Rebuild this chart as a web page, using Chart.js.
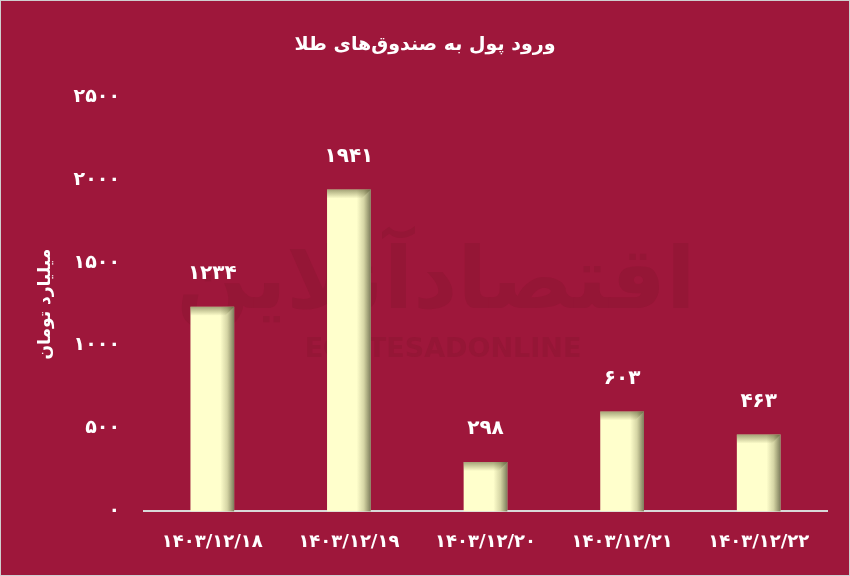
<!DOCTYPE html>
<html>
<head>
<meta charset="utf-8">
<script src="https://cdn.jsdelivr.net/npm/chart.js@4/dist/chart.umd.min.js"></script>
<style>
  html, body { margin: 0; padding: 0; background: #9E173B; }
  #wrap { width: 848px; height: 574px; border: 1px solid #cfcfcf; position: relative; }
</style>
</head>
<body>
<div id="wrap"><canvas id="myChart"></canvas></div>
<script>
const dates = ["1403/12/18", "1403/12/19", "1403/12/20", "1403/12/21", "1403/12/22"];
const inflow = [1234, 1941, 298, 603, 463];
const yTicks = [0, 500, 1000, 1500, 2000, 2500];
const chartTitle = "ورود پول به صندوق‌های طلا";
const yTitle = "میلیارد تومان";

// latin digits -> persian digits
function fa(s) {
  return String(s).replace(/[0-9]/g, d => "۰۱۲۳۴۵۶۷۸۹"[d]);
}

// bevel shading on the right and top edge of each bar
const barShade = {
  id: 'barShade',
  afterDatasetsDraw(chart) {
    const c = chart.ctx;
    chart.getDatasetMeta(0).data.forEach(bar => {
      const left = bar.x - bar.width / 2, right = bar.x + bar.width / 2;
      const top = bar.y, bottom = bar.base;
      c.save();
      let g = c.createLinearGradient(right - 14, 0, right, 0);
      g.addColorStop(0, 'rgba(90,90,50,0)');
      g.addColorStop(0.5, 'rgba(90,90,50,0.25)');
      g.addColorStop(1, 'rgba(80,80,55,0.75)');
      c.fillStyle = g;
      c.fillRect(right - 14, top, 14, bottom - top);
      g = c.createLinearGradient(0, top, 0, top + 9);
      g.addColorStop(0, 'rgba(90,90,50,0.55)');
      g.addColorStop(1, 'rgba(90,90,50,0)');
      c.fillStyle = g;
      c.beginPath();
      c.moveTo(left, top);
      c.lineTo(right, top);
      c.lineTo(right - 9, top + 9);
      c.lineTo(left, top + 9);
      c.closePath();
      c.fill();
      c.restore();
    });
  }
};

const valueLabels = {
  id: 'valueLabels',
  afterDatasetsDraw(chart) {
    const c = chart.ctx;
    const meta = chart.getDatasetMeta(0);
    c.save();
    c.fillStyle = '#ffffff';
    c.font = 'bold 20px "DejaVu Sans"';
    c.textAlign = 'center';
    c.textBaseline = 'middle';
    meta.data.forEach((bar, i) => {
      c.fillText(fa(inflow[i]), bar.x, bar.y - 33);
    });
    c.restore();
  }
};

const watermark = {
  id: 'watermark',
  beforeDatasetsDraw(chart) {
    const c = chart.ctx;
    c.save();
    c.fillStyle = '#951636';
    c.textAlign = 'center';
    c.textBaseline = 'middle';
    c.font = 'bold 86px "DejaVu Sans"';
    c.fillText('اقتصادآنلاین', 435, 285);
    c.font = 'bold 27px "DejaVu Sans"';
    c.fillText('EGHTESADONLINE', 442, 349);
    c.restore();
  }
};

new Chart(document.getElementById('myChart'), {
  type: 'bar',
  data: {
    labels: dates.map(fa),
    datasets: [{
      data: inflow,
      backgroundColor: '#FFFFCC',
      borderWidth: 0,
      categoryPercentage: 1,
      barPercentage: 0.32
    }]
  },
  options: {
    responsive: true,
    maintainAspectRatio: false,
    animation: false,
    layout: { padding: { left: 22, right: 22, top: 10, bottom: 2 } },
    plugins: {
      legend: { display: false },
      tooltip: { enabled: false },
      title: {
        display: true,
        text: chartTitle,
        color: '#ffffff',
        font: { family: 'DejaVu Sans', size: 19, weight: 'bold' },
        padding: { top: 23, bottom: 40 }
      }
    },
    scales: {
      x: {
        grid: { display: false, drawTicks: false },
        border: { color: '#D9D9D9', width: 2 },
        ticks: {
          color: '#ffffff',
          font: { family: 'DejaVu Sans', size: 18, weight: 'bold' },
          padding: 20,
          maxRotation: 0
        }
      },
      y: {
        min: 0,
        max: 2500,
        afterFit: s => { s.width = 121; },
        afterBuildTicks: s => { s.ticks = yTicks.map(v => ({ value: v })); },
        grid: { display: false, drawTicks: false },
        border: { display: false },
        ticks: {
          color: '#ffffff',
          font: { family: 'DejaVu Sans', size: 19, weight: 'bold' },
          padding: 24,
          callback: v => fa(v)
        },
        title: {
          display: true,
          text: yTitle,
          color: '#ffffff',
          font: { family: 'DejaVu Sans', size: 17, weight: 'bold' },
          padding: { top: 12 }
        }
      }
    }
  },
  plugins: [watermark, barShade, valueLabels]
});
</script>
</body>
</html>
